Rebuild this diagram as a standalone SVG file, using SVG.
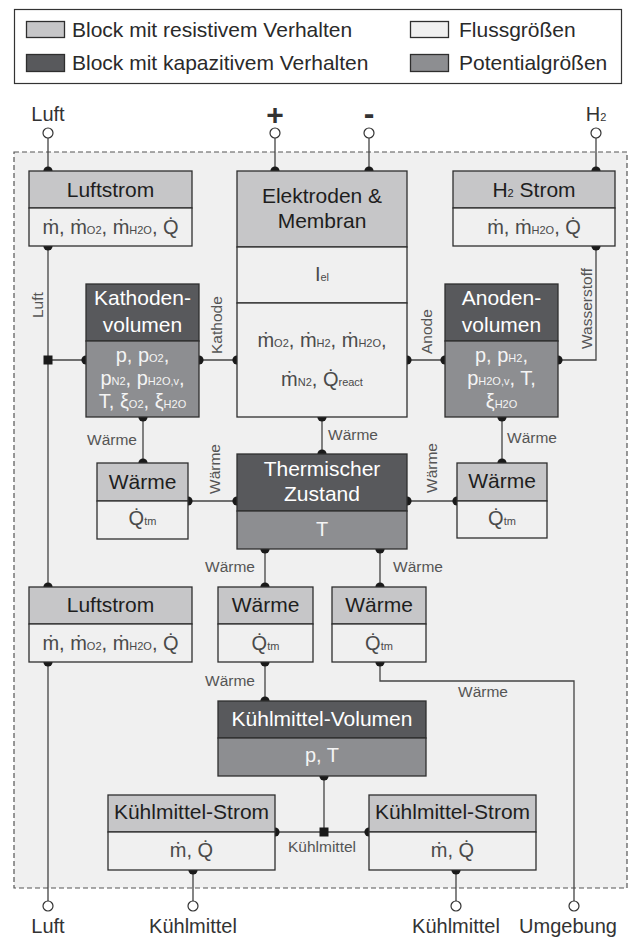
<svg xmlns="http://www.w3.org/2000/svg" width="630" height="943" viewBox="0 0 630 943">
<style>
text{font-family:"Liberation Sans",Arial,sans-serif}
.r{fill:#c6c6c8;stroke:#2e2e2e;stroke-width:1.3}
.c{fill:#58595c;stroke:#2e2e2e;stroke-width:1.3}
.p{fill:#8d8e91;stroke:#2e2e2e;stroke-width:1.3}
.f{fill:#f0f0f0;stroke:#2e2e2e;stroke-width:1.3}
.th{font-size:21px;fill:#1e1e1e;text-anchor:middle}
.tw{font-size:21px;fill:#ffffff;text-anchor:middle}
.tf{font-size:20px;fill:#4a4a4a;text-anchor:middle}
.tp{font-size:20px;fill:#f4f4f4;text-anchor:middle}
.s{font-size:11px}
.lbl{font-size:15.5px;fill:#555}
.term{font-size:20px;fill:#333;text-anchor:middle}
.leg{font-size:21px;fill:#2a2a2a}
.ln{fill:none;stroke:#444;stroke-width:1.3}
.dot{fill:#1a1a1a}
.oc{fill:#fff;stroke:#333;stroke-width:1.2}
</style>
<!-- legend -->
<g id="legend">
<rect x="14.5" y="9.5" width="607" height="74" fill="#fff" stroke="#333" stroke-width="1.2"/>
<rect x="26.5" y="21.5" width="38" height="16" class="r"/>
<text x="72" y="37" class="leg">Block mit resistivem Verhalten</text>
<rect x="26.5" y="54.5" width="38" height="17" class="c"/>
<text x="72" y="70" class="leg">Block mit kapazitivem Verhalten</text>
<rect x="410.5" y="21.5" width="38" height="16" class="f"/>
<text x="459" y="37" class="leg">Flussgrößen</text>
<rect x="410.5" y="54.5" width="38" height="17" class="p"/>
<text x="459" y="70" class="leg">Potentialgrößen</text>
</g>
<!-- system boundary -->
<rect id="boundary" x="14" y="152" width="613" height="736" fill="#f0f0f0" stroke="#555" stroke-width="1.2" stroke-dasharray="5,3"/>
<!-- connectors -->
<g id="connectors">
<path class="ln" d="M48 138V171M275 138V171M369 138V171M596 138V171"/>
<path class="ln" d="M48 246V587M48 360H86M199 360H237M407 360H445M558 360H596V246"/>
<path class="ln" d="M143 417V463M502 417V463M322 417V454M188 501H237M407 501H457M265 549V587M380 549V587"/>
<path class="ln" d="M48 662V901M265 662V701M380 662V681H574V901M324 776V832M275 832H369M193 870V901M456 870V901"/>
<rect x="43.5" y="355.5" width="9" height="9" class="dot"/>
<rect x="319.5" y="827.5" width="9" height="9" class="dot"/>
<g class="dot">
<circle cx="48" cy="171" r="4.6"/><circle cx="275" cy="171" r="4.6"/><circle cx="369" cy="171" r="4.6"/><circle cx="596" cy="171" r="4.6"/>
<circle cx="48" cy="246" r="4.6"/><circle cx="596" cy="246" r="4.6"/>
<circle cx="86" cy="360" r="4.6"/><circle cx="199" cy="360" r="4.6"/><circle cx="237" cy="360" r="4.6"/><circle cx="407" cy="360" r="4.6"/><circle cx="445" cy="360" r="4.6"/><circle cx="558" cy="360" r="4.6"/>
<circle cx="143" cy="417" r="4.6"/><circle cx="322" cy="417" r="4.6"/><circle cx="502" cy="417" r="4.6"/>
<circle cx="322" cy="454" r="4.6"/><circle cx="143" cy="463" r="4.6"/><circle cx="502" cy="463" r="4.6"/>
<circle cx="188" cy="501" r="4.6"/><circle cx="237" cy="501" r="4.6"/><circle cx="407" cy="501" r="4.6"/><circle cx="457" cy="501" r="4.6"/>
<circle cx="265" cy="549" r="4.6"/><circle cx="380" cy="549" r="4.6"/>
<circle cx="48" cy="587" r="4.6"/><circle cx="265" cy="587" r="4.6"/><circle cx="380" cy="587" r="4.6"/>
<circle cx="48" cy="662" r="4.6"/><circle cx="265" cy="662" r="4.6"/><circle cx="380" cy="662" r="4.6"/>
<circle cx="265" cy="701" r="4.6"/><circle cx="324" cy="776" r="4.6"/>
<circle cx="275" cy="832" r="4.6"/><circle cx="369" cy="832" r="4.6"/>
<circle cx="193" cy="870" r="4.6"/><circle cx="456" cy="870" r="4.6"/>
</g>
<g>
<circle cx="48" cy="133" r="5" class="oc"/><circle cx="275" cy="133" r="5" class="oc"/><circle cx="369" cy="133" r="5" class="oc"/><circle cx="596" cy="133" r="5" class="oc"/>
<circle cx="48" cy="906" r="5" class="oc"/><circle cx="193" cy="906" r="5" class="oc"/><circle cx="456" cy="906" r="5" class="oc"/><circle cx="574" cy="906" r="5" class="oc"/>
</g>
<!-- connector labels -->
<text class="lbl" transform="translate(43,318) rotate(-90)">Luft</text>
<text class="lbl" transform="translate(222,354) rotate(-90)">Kathode</text>
<text class="lbl" transform="translate(432,354) rotate(-90)">Anode</text>
<text class="lbl" transform="translate(592,349) rotate(-90)">Wasserstoff</text>
<text class="lbl" transform="translate(220,494) rotate(-90)">Wärme</text>
<text class="lbl" transform="translate(437,493) rotate(-90)">Wärme</text>
<text class="lbl" x="137" y="445" text-anchor="end">Wärme</text>
<text class="lbl" x="328" y="440">Wärme</text>
<text class="lbl" x="507" y="443">Wärme</text>
<text class="lbl" x="255" y="572" text-anchor="end">Wärme</text>
<text class="lbl" x="393" y="572">Wärme</text>
<text class="lbl" x="255" y="686" text-anchor="end">Wärme</text>
<text class="lbl" x="458" y="697">Wärme</text>
<text class="lbl" x="322" y="852" text-anchor="middle">Kühlmittel</text>
</g>
<!-- terminals -->
<g id="terminals">
<text class="term" x="48" y="121">Luft</text>
<text x="275" y="125" font-size="30" font-weight="bold" fill="#333" text-anchor="middle">+</text>
<text x="369" y="124" font-size="32" font-weight="bold" fill="#333" text-anchor="middle">-</text>
<text class="term" x="596" y="121">H<tspan class="s">2</tspan></text>
<text class="term" x="48" y="933">Luft</text>
<text class="term" x="193" y="933">Kühlmittel</text>
<text class="term" x="456" y="933">Kühlmittel</text>
<text class="term" x="568" y="933">Umgebung</text>
</g>
<!-- blocks -->
<g id="luftstrom1">
<rect x="29" y="171" width="163" height="37" class="r"/>
<rect x="29" y="208" width="163" height="38" class="f"/>
<text class="th" x="110.5" y="197">Luftstrom</text>
<text class="tf" x="110.5" y="234">ṁ, ṁ<tspan class="s">O2</tspan>, ṁ<tspan class="s">H2O</tspan>, Q̇</text>
</g>
<g id="elektroden">
<rect x="237" y="171" width="170" height="76" class="r"/>
<rect x="237" y="247" width="170" height="56" class="f"/>
<rect x="237" y="303" width="170" height="114" class="f"/>
<text class="th" x="322" y="203">Elektroden &amp;</text>
<text class="th" x="322" y="228">Membran</text>
<text class="tf" x="322" y="281">I<tspan class="s">el</tspan></text>
<text class="tf" x="322" y="347">ṁ<tspan class="s">O2</tspan>, ṁ<tspan class="s">H2</tspan>, ṁ<tspan class="s">H2O</tspan>,</text>
<text class="tf" x="322" y="386">ṁ<tspan class="s">N2</tspan>, Q̇<tspan class="s">react</tspan></text>
</g>
<g id="h2strom">
<rect x="453" y="171" width="162" height="37" class="r"/>
<rect x="453" y="208" width="162" height="38" class="f"/>
<text class="th" x="534" y="197">H<tspan class="s">2</tspan> Strom</text>
<text class="tf" x="534" y="234">ṁ, ṁ<tspan class="s">H2O</tspan>, Q̇</text>
</g>
<g id="kathodenvolumen">
<rect x="86" y="284" width="113" height="57" class="c"/>
<rect x="86" y="341" width="113" height="76" class="p"/>
<text class="tw" x="142.5" y="305">Kathoden-</text>
<text class="tw" x="142.5" y="332">volumen</text>
<text class="tp" x="142.5" y="362">p, p<tspan class="s">O2</tspan>,</text>
<text class="tp" x="142.5" y="385">p<tspan class="s">N2</tspan>, p<tspan class="s">H2O,v</tspan>,</text>
<text class="tp" x="142.5" y="408">T, ξ<tspan class="s">O2</tspan>, ξ<tspan class="s">H2O</tspan></text>
</g>
<g id="anodenvolumen">
<rect x="445" y="284" width="113" height="57" class="c"/>
<rect x="445" y="341" width="113" height="76" class="p"/>
<text class="tw" x="501.5" y="305">Anoden-</text>
<text class="tw" x="501.5" y="332">volumen</text>
<text class="tp" x="501.5" y="362">p, p<tspan class="s">H2</tspan>,</text>
<text class="tp" x="501.5" y="385">p<tspan class="s">H2O,v</tspan>, T,</text>
<text class="tp" x="501.5" y="408">ξ<tspan class="s">H2O</tspan></text>
</g>
<g id="waerme1">
<rect x="97" y="463" width="91" height="38" class="r"/>
<rect x="97" y="501" width="91" height="38" class="f"/>
<text class="th" x="142.5" y="489">Wärme</text>
<text class="tf" x="142.5" y="525">Q̇<tspan class="s">tm</tspan></text>
</g>
<g id="thermisch">
<rect x="237" y="454" width="170" height="57" class="c"/>
<rect x="237" y="511" width="170" height="38" class="p"/>
<text class="tw" x="322" y="476">Thermischer</text>
<text class="tw" x="322" y="501">Zustand</text>
<text class="tp" x="322" y="536">T</text>
</g>
<g id="waerme2">
<rect x="457" y="463" width="90" height="38" class="r"/>
<rect x="457" y="501" width="90" height="37" class="f"/>
<text class="th" x="502" y="488">Wärme</text>
<text class="tf" x="502" y="525">Q̇<tspan class="s">tm</tspan></text>
</g>
<g id="luftstrom2">
<rect x="29" y="587" width="163" height="37" class="r"/>
<rect x="29" y="624" width="163" height="38" class="f"/>
<text class="th" x="110.5" y="612">Luftstrom</text>
<text class="tf" x="110.5" y="650">ṁ, ṁ<tspan class="s">O2</tspan>, ṁ<tspan class="s">H2O</tspan>, Q̇</text>
</g>
<g id="waerme3">
<rect x="218" y="587" width="95" height="37" class="r"/>
<rect x="218" y="624" width="95" height="38" class="f"/>
<text class="th" x="265.5" y="612">Wärme</text>
<text class="tf" x="265.5" y="650">Q̇<tspan class="s">tm</tspan></text>
</g>
<g id="waerme4">
<rect x="332" y="587" width="94" height="37" class="r"/>
<rect x="332" y="624" width="94" height="38" class="f"/>
<text class="th" x="379" y="612">Wärme</text>
<text class="tf" x="379" y="650">Q̇<tspan class="s">tm</tspan></text>
</g>
<g id="kuehlvolumen">
<rect x="218" y="701" width="208" height="37" class="c"/>
<rect x="218" y="738" width="208" height="38" class="p"/>
<text class="tw" x="322" y="726">Kühlmittel-Volumen</text>
<text class="tp" x="322" y="762">p, T</text>
</g>
<g id="kuehlstrom1">
<rect x="108" y="795" width="167" height="37" class="r"/>
<rect x="108" y="832" width="167" height="38" class="f"/>
<text class="th" x="191.5" y="819">Kühlmittel-Strom</text>
<text class="tf" x="191.5" y="857">ṁ, Q̇</text>
</g>
<g id="kuehlstrom2">
<rect x="369" y="795" width="167" height="37" class="r"/>
<rect x="369" y="832" width="167" height="38" class="f"/>
<text class="th" x="452.5" y="819">Kühlmittel-Strom</text>
<text class="tf" x="452.5" y="857">ṁ, Q̇</text>
</g>
</svg>
